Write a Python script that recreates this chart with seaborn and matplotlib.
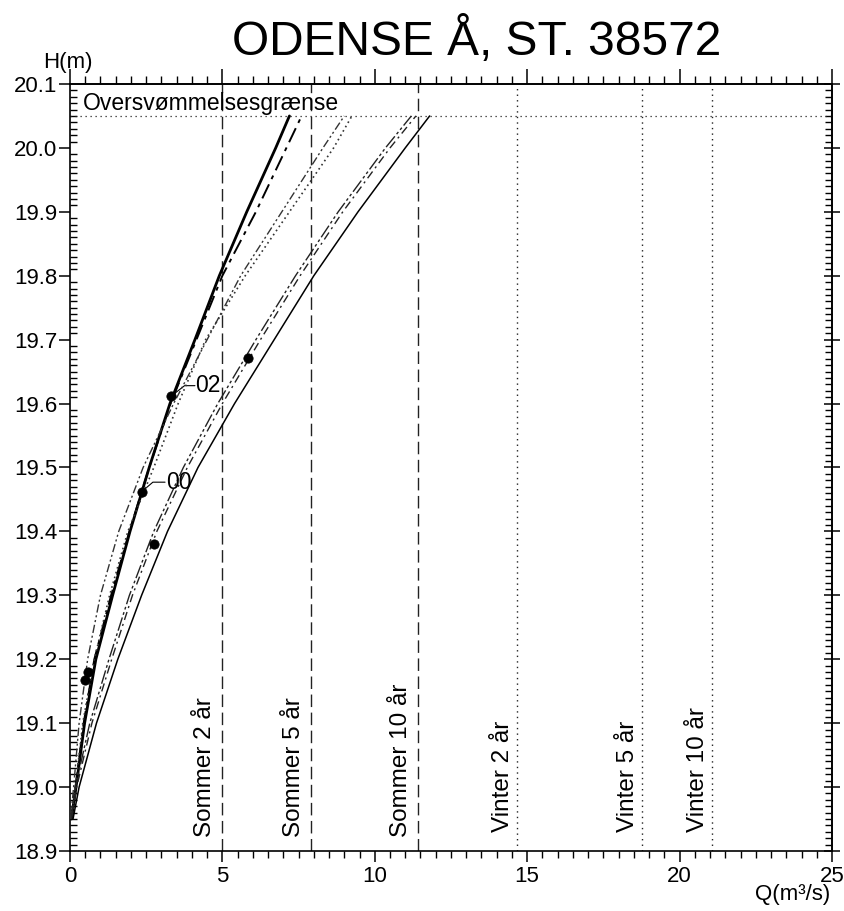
#!/usr/bin/env python3
import matplotlib
matplotlib.use("Agg")
import matplotlib.pyplot as plt
from matplotlib.ticker import MultipleLocator, FormatStrFormatter
import seaborn as sns

# === Rating curves: discharge Q (m3/s) read at each water level H (m) ===
h_levels = [18.95, 19.0, 19.1, 19.2, 19.3, 19.4, 19.5, 19.6, 19.7, 19.8, 19.9, 20.0, 20.05]

q_solid_thick = [0.05, 0.2, 0.48, 0.85, 1.4, 1.97, 2.6, 3.28, 4.1, 4.9, 5.8, 6.75, 7.2]
q_dashdot_a = [0.04, 0.18, 0.45, 0.8, 1.35, 1.95, 2.6, 3.3, 4.15, 5.0, 6.1, 7.1, 7.6]
q_dashdotdot_a = [0.02, 0.12, 0.3, 0.58, 1.0, 1.6, 2.4, 3.4, 4.5, 5.6, 6.95, 8.3, 9.0]
q_dotted = [0.05, 0.18, 0.42, 0.8, 1.3, 1.9, 2.75, 3.55, 4.45, 5.75, 7.2, 8.65, 9.25]
q_dashdotdot_b = [0.04, 0.18, 0.65, 1.28, 1.95, 2.75, 3.72, 4.85, 6.1, 7.4, 8.8, 10.35, 11.2]
q_dashdot_b = [0.06, 0.22, 0.72, 1.37, 2.05, 2.85, 3.85, 5.0, 6.25, 7.55, 8.95, 10.5, 11.35]
q_solid_thin = [0.1, 0.3, 0.87, 1.57, 2.35, 3.2, 4.2, 5.4, 6.7, 8.0, 9.45, 11.0, 11.8]

# measured points
meas_q = [0.49, 0.59, 2.35, 3.33, 2.75, 5.85]
meas_h = [19.168, 19.18, 19.462, 19.612, 19.38, 19.671]

# return-period discharges
sommer_labels = ["Sommer 2 år", "Sommer 5 år", "Sommer 10 år"]
sommer_q = [4.98, 7.92, 11.43]
vinter_labels = ["Vinter 2 år", "Vinter 5 år", "Vinter 10 år"]
vinter_q = [14.67, 18.76, 21.06]

flood_level = 20.05


def main():
    sns.set_theme(style="ticks")
    plt.rcParams["font.family"] = ["Liberation Sans", "DejaVu Sans"]
    plt.rcParams["axes.linewidth"] = 1.2
    for key in ["text.color", "axes.labelcolor", "xtick.color", "ytick.color",
                "axes.edgecolor"]:
        plt.rcParams[key] = "black"

    fig = plt.figure(figsize=(8.45, 9.11), dpi=100)
    ax = fig.add_axes([0.0828, 0.0659, 0.9018, 0.8419])

    # --- reference lines ---
    for q in sommer_q:
        ax.axvline(q, color="#222222", lw=1.0, linestyle=(0, (9, 4)), zorder=1)
    for q in vinter_q:
        ax.axvline(q, color="#222222", lw=1.0, linestyle=(0, (1, 3)), zorder=1)
    ax.axhline(flood_level, color="#222222", lw=0.9, linestyle=(0, (1, 3)), zorder=1)

    # --- rating curves ---
    curves = [
        (q_solid_thick, "-", 2.0, "black"),
        (q_dashdot_a, (0, (8, 3, 2, 3)), 1.4, "black"),
        (q_dashdotdot_a, (0, (6, 2, 1.5, 2, 1.5, 2)), 1.0, "#333333"),
        (q_dotted, (0, (1, 2)), 1.2, "#333333"),
        (q_dashdotdot_b, (0, (10, 2, 2, 2, 2, 2)), 1.0, "#222222"),
        (q_dashdot_b, (0, (6, 3, 1.5, 3)), 1.0, "#222222"),
        (q_solid_thin, "-", 1.1, "black"),
    ]
    for q, ls, lw, col in curves:
        sns.lineplot(x=q, y=h_levels, ax=ax, color=col, lw=lw, linestyle=ls,
                     sort=False, estimator=None, zorder=3)

    sns.scatterplot(x=meas_q, y=meas_h, ax=ax, color="black", s=45,
                    edgecolor="black", zorder=5)

    # leader lines + year labels
    ax.plot([3.33, 3.76, 4.1], [19.612, 19.628, 19.628], color="black", lw=0.8)
    ax.text(4.12, 19.628, "02", fontsize=16.5, va="center", ha="left")
    ax.plot([2.35, 2.72, 3.12], [19.462, 19.477, 19.477], color="black", lw=0.8)
    ax.text(3.14, 19.477, "00", fontsize=16.5, va="center", ha="left")

    ax.text(0.43, 20.06, "Oversvømmelsesgrænse", fontsize=16.5,
            va="baseline", ha="left")

    for q, lab in zip(sommer_q, sommer_labels):
        ax.annotate(lab, xy=(q, 18.922), xytext=(-4.5, 0), textcoords="offset points",
                    rotation=90, ha="right", va="bottom", fontsize=17.5)
    for q, lab in zip(vinter_q, vinter_labels):
        ax.annotate(lab, xy=(q, 18.93), xytext=(-2, 0), textcoords="offset points",
                    rotation=90, ha="right", va="bottom", fontsize=17.5)

    # --- axes, ticks ---
    ax.set_xlim(0, 25)
    ax.set_ylim(18.9, 20.1)
    ax.xaxis.set_major_locator(MultipleLocator(5))
    ax.xaxis.set_minor_locator(MultipleLocator(0.5))
    ax.yaxis.set_major_locator(MultipleLocator(0.1))
    ax.yaxis.set_minor_locator(MultipleLocator(0.01))
    ax.yaxis.set_major_formatter(FormatStrFormatter("%.1f"))
    ax.tick_params(axis="x", which="major", direction="out", length=8, width=1.1,
                   labelsize=16, top=False, pad=3)
    ax.tick_params(axis="x", which="minor", direction="out", length=5, width=1.0, top=False)
    ax.tick_params(axis="y", which="major", direction="out", length=8, width=1.1,
                   labelsize=16, right=False, pad=1)
    ax.tick_params(axis="y", which="minor", direction="in", length=5, width=1.0, right=False)
    for s in ax.spines.values():
        s.set_visible(True)
        s.set_color("black")

    top = ax.secondary_xaxis("top")
    top.xaxis.set_major_locator(MultipleLocator(5))
    top.xaxis.set_minor_locator(MultipleLocator(0.5))
    top.tick_params(which="major", direction="out", length=11, width=1.1, labeltop=False)
    top.tick_params(which="minor", direction="out", length=6, width=1.0)

    right = ax.secondary_yaxis("right")
    right.yaxis.set_major_locator(MultipleLocator(0.1))
    right.yaxis.set_minor_locator(MultipleLocator(0.01))
    right.tick_params(which="major", direction="inout", length=12, width=1.1, labelright=False)
    right.tick_params(which="minor", direction="in", length=5, width=1.0)

    ax.set_xlabel("")
    ax.set_ylabel("")

    # --- titles and axis names ---
    fig.text(0.2746, 1 - 55 / 911, "ODENSE Å, ST. 38572", fontsize=34.5,
             ha="left", va="baseline")
    fig.text(43 / 845, 1 - 68 / 911, "H(m)", fontsize=16, ha="left", va="baseline")
    fig.text(830 / 845, 1 - 900 / 911, "Q(m³/s)", fontsize=16, ha="right", va="baseline")

    fig.savefig("out.png", dpi=100, facecolor="white")
    plt.close(fig)


if __name__ == "__main__":
    main()
